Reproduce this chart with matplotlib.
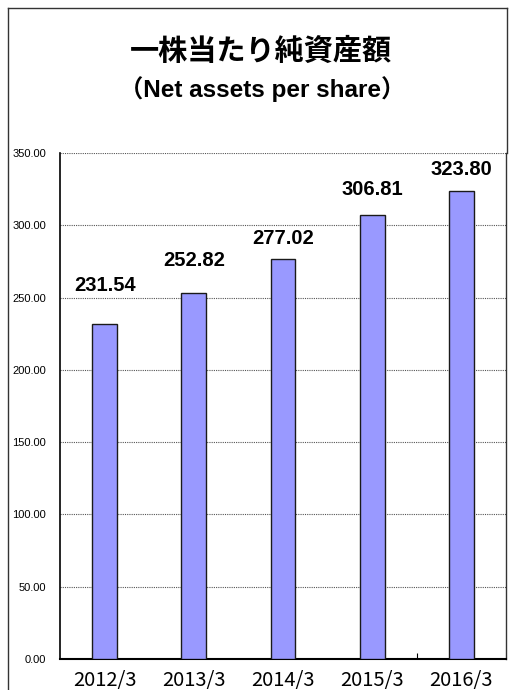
import matplotlib.pyplot as plt
from matplotlib.lines import Line2D
import numpy as np

# data
years = ['2012/3', '2013/3', '2014/3', '2015/3', '2016/3']
net_assets = [231.54, 252.82, 277.02, 306.81, 323.80]

# label gap above each bar (pixels), the source places them unevenly
label_gap_px = [29, 23, 11, 16, 12]

W, H = 509, 690
fig = plt.figure(figsize=(W / 100, H / 100), dpi=100)
ax = fig.add_axes([60 / W, 1 - 659 / H, (506 - 60) / W, (659 - 153) / H])

x = np.arange(len(years))
ax.bar(x, net_assets, width=0.28, color='#9999FF', edgecolor='#1a1a1a',
       linewidth=1.0, zorder=3)

ax.set_xlim(-0.5, len(years) - 0.5)
ax.set_ylim(0, 350)
ax.set_yticks(np.arange(0, 351, 50))
ax.set_yticklabels(['%.2f' % v for v in np.arange(0, 351, 50)],
                   family='Liberation Sans', fontsize=8)
ax.set_xticks(x)
ax.set_xticklabels(years, family='Noto Sans CJK JP', fontsize=14.5)
ax.tick_params(axis='y', length=0, pad=10)
ax.tick_params(axis='x', length=0, pad=8)
ax.set_xticks([3.5], minor=True)
ax.tick_params(axis='x', which='minor', direction='in', length=4, width=0.8)

ax.grid(axis='y', linestyle=(0, (1, 1)), color='#555555', linewidth=0.8, zorder=0)
ax.spines['top'].set_visible(False)
ax.spines['left'].set_linewidth(1.2)
ax.spines['bottom'].set_linewidth(1.5)
ax.spines['right'].set_linewidth(1.0)
ax.spines['right'].set_color('#333333')

for i, v in enumerate(net_assets):
    ax.annotate('%.2f' % v, (x[i], v), xytext=(0, label_gap_px[i] * 0.72),
                textcoords='offset points', ha='center', va='bottom',
                family='Liberation Sans', fontweight='bold', fontsize=14.5)

# titles
fig.text(261 / W, 1 - 51 / H, '一株当たり純資産額', ha='center', va='center',
         family=['Noto Sans CJK JP', 'DejaVu Sans'], fontweight='bold', fontsize=21)
fig.text(262 / W, 1 - 89 / H, '（Net assets per share）', ha='center', va='center',
         family=['Liberation Sans', 'Noto Sans CJK JP'], fontweight='bold', fontsize=17.5)

# outer frame (cut on bottom)
fig.add_artist(Line2D([7.5 / W, 7.5 / W], [0, 1 - 7.5 / H], color='#333333', lw=1))
fig.add_artist(Line2D([7.5 / W, 506.5 / W], [1 - 7.5 / H, 1 - 7.5 / H], color='#333333', lw=1))
fig.add_artist(Line2D([506.5 / W, 506.5 / W], [1 - 153 / H, 1 - 7.5 / H], color='#333333', lw=1))

fig.savefig('out.png', dpi=100)
